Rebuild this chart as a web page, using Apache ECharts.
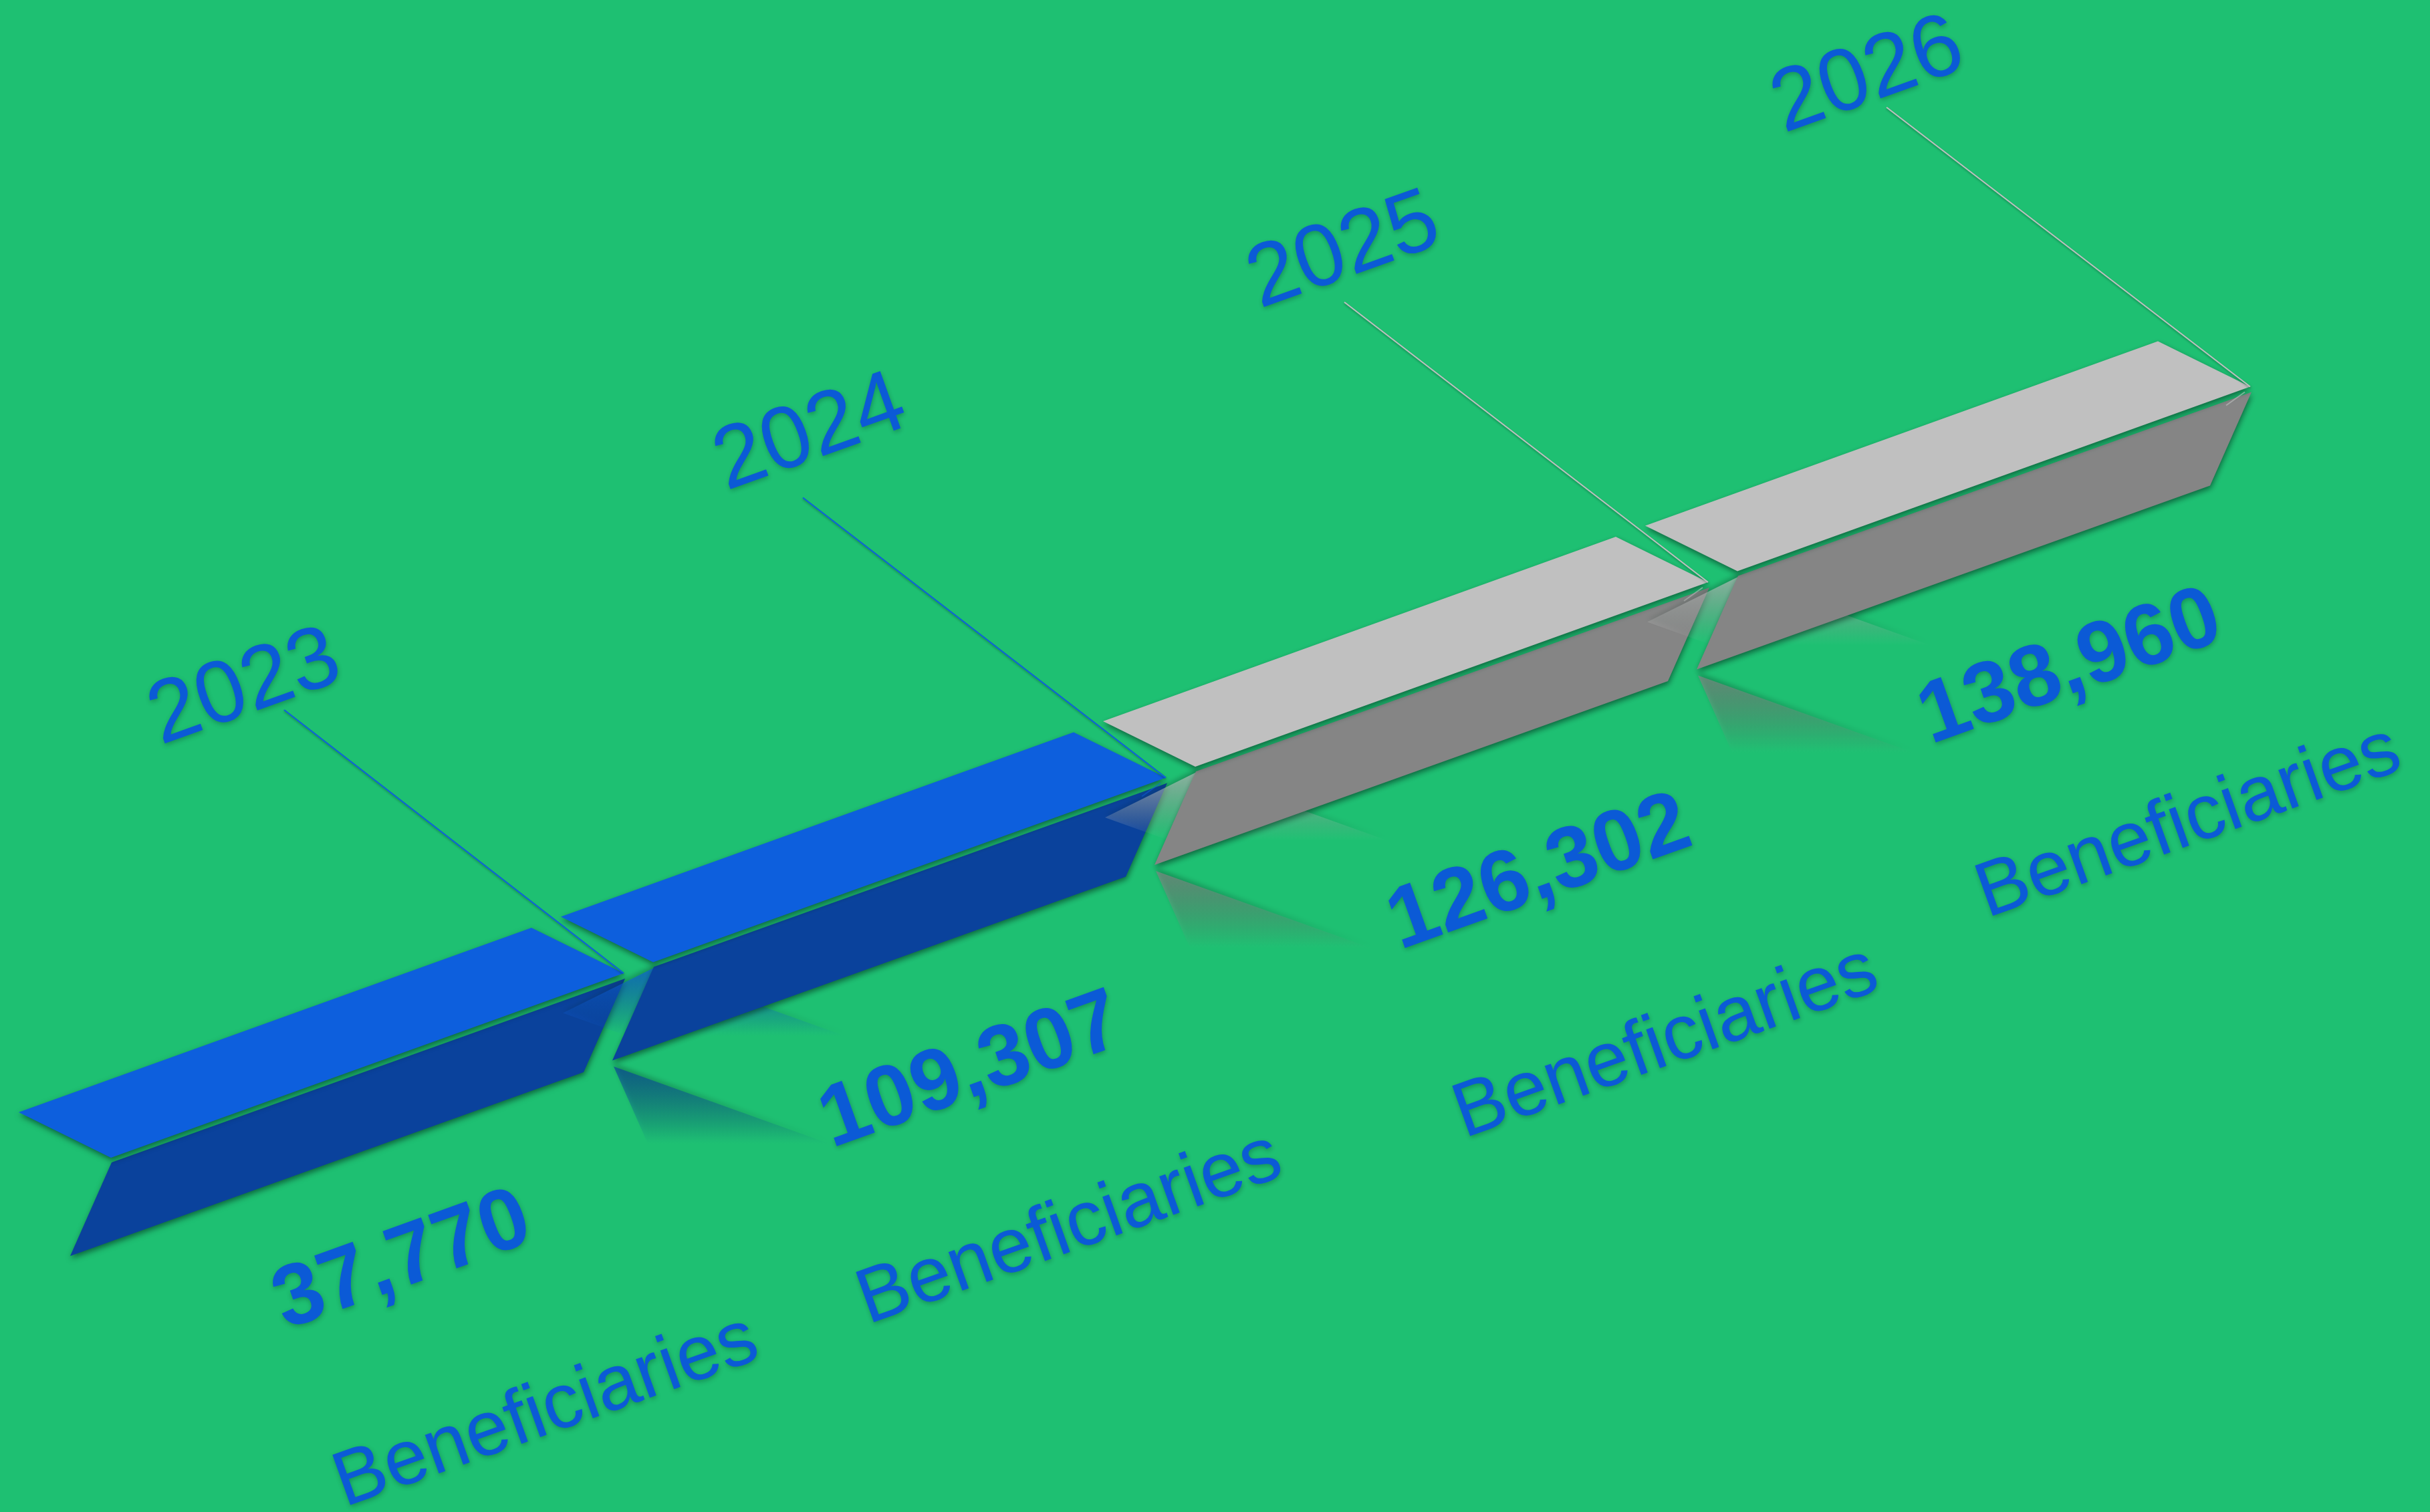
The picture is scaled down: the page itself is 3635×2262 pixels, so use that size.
<!DOCTYPE html>
<html>
<head>
<meta charset="utf-8">
<style>html,body{margin:0;padding:0;background:#1EC072}#chart{width:3635px;height:2262px}</style>
<script src="https://cdn.jsdelivr.net/npm/echarts@6/dist/echarts.min.js"></script>
</head>
<body>
<div id="chart"></div>
<script>
// Programme timeline
const years = [2023, 2024, 2025, 2026];
const beneficiaries = [37770, 109307, 126302, 138960];
const unitLabel = 'Beneficiaries';
// Which palette each year's beam uses
const beamTones = ['blue', 'blue', 'grey', 'grey'];

const PALETTE = {
  blue: { top: '13,95,221', side: '10,66,156' },
  grey: { top: '192,192,192', side: '133,133,133' }
};
const INK = '#0B5AD6';
const FONT = '"Liberation Sans", Arial, sans-serif';

// One year along the diagonal timeline, in pixels
const STEP_X = 811, STEP_Y = 292.5;
const ORIGIN_X = 166, ORIGIN_Y = 1732;
const WIDTH = 3635, HEIGHT = 2262;

// Beam outline, relative to the front corner of its top face
const TOP_FACE = [[-138, -68], [0, 0], [767, -276], [629, -344]];
const SIDE_FACE = [[1, 7], [769, -268], [707, -128], [-61, 147]];
const TOP_MIRROR = [[-135, 76], [2, 8], [770, 284], [630, 350]];
const SIDE_MIRROR = [[-59, 156], [709, 431], [771, 570], [3, 296]];

// Label anchors, relative to the same corner
const YEAR_AT = [[40, -714], [75, -802], [62, -782], [35, -752]];
const VALUE_AT = [[227, 162], [233, 183], [272, 179], [255, 164]];
const UNIT_AT = [[319, 438], [291, 457], [372, 471], [343, 434]];
const LEADER_FROM = [[-508, -394], [-543, -419], [-544, -419], [-544, -418]];
const TILT = 19.7 * Math.PI / 180;

function fade(rgb, alpha, stop) {
  return {
    type: 'linear', x: 0, y: 0, x2: 0, y2: 1,
    colorStops: [
      { offset: 0, color: 'rgba(' + rgb + ',' + alpha + ')' },
      { offset: stop, color: 'rgba(' + rgb + ',0)' },
      { offset: 1, color: 'rgba(' + rgb + ',0)' }
    ]
  };
}

function polygon(at, corners, style) {
  return {
    type: 'polygon',
    shape: { points: corners.map(function (c) { return [at[0] + c[0], at[1] + c[1]]; }) },
    style: style
  };
}

function label(at, offset, text, size, weight) {
  return {
    type: 'text',
    x: at[0] + offset[0],
    y: at[1] + offset[1],
    rotation: TILT,
    style: {
      x: 0, y: 0, text: text, fill: INK,
      font: weight + ' ' + size + 'px ' + FONT,
      align: 'left', verticalAlign: 'top',
      textShadowColor: 'rgba(0,40,30,0.3)', textShadowBlur: 7, textShadowOffsetX: 1, textShadowOffsetY: 3
    }
  };
}

function renderBeam(params, api) {
  const i = params.dataIndex;
  const at = api.coord([api.value(0), api.value(1)]);
  const tone = PALETTE[beamTones[i]];
  const tip = [at[0] + TOP_FACE[2][0], at[1] + TOP_FACE[2][1]];
  const drop = { shadowColor: 'rgba(0,30,20,0.55)', shadowBlur: 8, shadowOffsetX: 1, shadowOffsetY: 4 };
  const lift = { shadowColor: 'rgba(0,30,20,0.45)', shadowBlur: 7, shadowOffsetX: 0, shadowOffsetY: -4 };
  const children = [];

  // The first beam stands alone; later ones carry a fading reflection
  if (i > 0) {
    children.push(polygon(at, TOP_MIRROR, Object.assign({ fill: fade(tone.top, 0.7, 0.3) }, lift)));
    children.push(polygon(at, SIDE_MIRROR, Object.assign({ fill: fade(tone.side, 0.68, 0.28) }, lift)));
  }
  children.push(polygon(at, SIDE_FACE, Object.assign({ fill: 'rgb(' + tone.side + ')' }, drop)));
  children.push(polygon(at, TOP_FACE, Object.assign({ fill: 'rgb(' + tone.top + ')' }, drop)));

  if (i > 0) {
    children.push({
      type: 'line',
      shape: { x1: tip[0] - 8, y1: tip[1] + 8, x2: tip[0] - 36, y2: tip[1] + 28 },
      style: { stroke: 'rgba(' + tone.top + ',0.6)', lineWidth: 2 }
    });
  }

  children.push(label(at, YEAR_AT[i], String(api.value(0)), 132, 'normal'));
  children.push(label(at, VALUE_AT[i], api.value(2).toLocaleString('en-US'), 130, 'bold'));
  children.push(label(at, UNIT_AT[i], unitLabel, 116, 'normal'));

  // Leader from the year down to the beam's far corner
  children.push({
    type: 'line',
    shape: { x1: tip[0] + LEADER_FROM[i][0], y1: tip[1] + LEADER_FROM[i][1], x2: tip[0], y2: tip[1] },
    style: { stroke: 'rgb(' + tone.top + ')', lineWidth: 2, shadowColor: 'rgba(0,30,20,0.35)', shadowBlur: 3, shadowOffsetY: 2 }
  });

  return { type: 'group', children: children };
}

const chart = echarts.init(document.getElementById('chart'), null, { renderer: 'canvas' });
chart.setOption({
  animation: false,
  backgroundColor: '#1EC072',
  grid: { left: 0, right: 0, top: 0, bottom: 0 },
  // Both axes run in years, so a beam's corner lands on the diagonal
  xAxis: {
    type: 'value', show: false,
    min: years[0] - ORIGIN_X / STEP_X,
    max: years[0] + (WIDTH - ORIGIN_X) / STEP_X
  },
  yAxis: {
    type: 'value', show: false,
    min: years[0] - (HEIGHT - ORIGIN_Y) / STEP_Y,
    max: years[0] + ORIGIN_Y / STEP_Y
  },
  series: [{
    type: 'custom',
    coordinateSystem: 'cartesian2d',
    clip: false,
    silent: true,
    encode: { x: 0, y: 1 },
    data: years.map(function (y, i) { return [y, y, beneficiaries[i]]; }),
    renderItem: renderBeam
  }]
});
</script>
</body>
</html>
